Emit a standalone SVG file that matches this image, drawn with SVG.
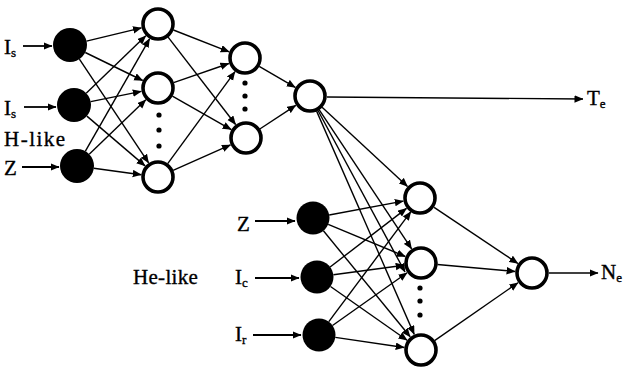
<svg xmlns="http://www.w3.org/2000/svg" width="629" height="367" viewBox="0 0 629 367">
<style>
.c line{stroke:#000;stroke-width:1.4;fill:none;marker-end:url(#ah)}
.c line.ia{stroke-width:1.8}
.in{fill:#000}
.hid{fill:#fff;stroke:#000;stroke-width:3.6}
.dot{fill:#000}
text{font-family:"Liberation Serif","Times New Roman",serif;font-size:21px;fill:#000;stroke:#000;stroke-width:0.35}
.sub{font-size:13px}
</style>
<defs>
<marker id="ah" markerWidth="9" markerHeight="8" refX="8.5" refY="3.75" orient="auto" markerUnits="userSpaceOnUse">
<path d="M0,0 L9,3.75 L0,7.5 z" fill="#000"/>
</marker>
</defs>
<rect width="629" height="367" fill="#fff"/>
<g id="connectors" class="c">
<line class="ia" x1="23" y1="46" x2="52" y2="46"/>
<line class="ia" x1="24" y1="107" x2="56" y2="107"/>
<line class="ia" x1="22" y1="167" x2="59" y2="167"/>
<line class="ia" x1="255" y1="221" x2="295" y2="221"/>
<line class="ia" x1="255" y1="278" x2="299" y2="278"/>
<line class="ia" x1="253" y1="335" x2="301" y2="335"/>
<line x1="86.5" y1="41.1" x2="141.5" y2="27.9"/>
<line x1="85.3" y1="52.5" x2="142.7" y2="80.5"/>
<line x1="79.4" y1="59.1" x2="148.6" y2="162.9"/>
<line x1="86.2" y1="93.2" x2="145.8" y2="35.8"/>
<line x1="90.7" y1="101.6" x2="141.3" y2="91.4"/>
<line x1="86.9" y1="116.1" x2="145.1" y2="165.9"/>
<line x1="85.4" y1="151.2" x2="149.6" y2="38.8"/>
<line x1="89.2" y1="154.2" x2="145.8" y2="99.8"/>
<line x1="93.8" y1="168.3" x2="141.2" y2="174.7"/>
<line x1="173.4" y1="30" x2="229.2" y2="51.8"/>
<line x1="168.1" y1="37.1" x2="235.6" y2="124.5"/>
<line x1="173.6" y1="82.6" x2="228.9" y2="63.5"/>
<line x1="172.4" y1="96.2" x2="231.2" y2="129.6"/>
<line x1="167.7" y1="163.7" x2="235" y2="71.7"/>
<line x1="173.1" y1="170.3" x2="230.5" y2="144.9"/>
<line x1="259.2" y1="66.3" x2="295.3" y2="87.4"/>
<line x1="259.8" y1="129" x2="295.8" y2="105.3"/>
<line x1="327" y1="97" x2="583" y2="99"/>
<line x1="322.1" y1="107.2" x2="407.5" y2="186.4"/>
<line x1="319.1" y1="109.7" x2="411.6" y2="248.8"/>
<line x1="318" y1="110.5" x2="405" y2="272"/>
<line x1="316.6" y1="111.1" x2="414.2" y2="334.4"/>
<line x1="329.2" y1="215" x2="403.3" y2="201.1"/>
<line x1="328.2" y1="224.3" x2="405.3" y2="256.5"/>
<line x1="323.4" y1="230.8" x2="410.2" y2="336.8"/>
<line x1="330.1" y1="267" x2="406.5" y2="208.4"/>
<line x1="333.4" y1="274.8" x2="404.2" y2="265.3"/>
<line x1="330.5" y1="286.5" x2="407.1" y2="340.2"/>
<line x1="328.8" y1="321.7" x2="410.9" y2="211.7"/>
<line x1="332.5" y1="325.5" x2="407.1" y2="272.8"/>
<line x1="335.3" y1="337.4" x2="404.2" y2="347.5"/>
<line x1="434.1" y1="207.4" x2="517.9" y2="263.5"/>
<line x1="437.4" y1="264.5" x2="515.1" y2="271.5"/>
<line x1="434.6" y1="340.6" x2="518" y2="282.7"/>
<line x1="549" y1="273" x2="598" y2="273"/>
</g>
<g id="in1"><circle class="in" cx="70" cy="45" r="17"/></g>
<g id="in2"><circle class="in" cx="74" cy="105" r="17"/></g>
<g id="in3"><circle class="in" cx="77" cy="166" r="17"/></g>
<g id="h1a"><circle class="hid" cx="158" cy="24" r="15"/></g>
<g id="h1b"><circle class="hid" cx="158" cy="88" r="15"/></g>
<g id="h1dots"><circle class="dot" cx="159" cy="115" r="2.6"/><circle class="dot" cx="159" cy="130" r="2.6"/><circle class="dot" cx="159" cy="146" r="2.6"/></g>
<g id="h1c"><circle class="hid" cx="158" cy="177" r="15"/></g>
<g id="h2a"><circle class="hid" cx="245" cy="58" r="15"/></g>
<g id="h2dots"><circle class="dot" cx="245" cy="83" r="2.6"/><circle class="dot" cx="245" cy="96" r="2.6"/><circle class="dot" cx="245" cy="109" r="2.6"/></g>
<g id="h2b"><circle class="hid" cx="246" cy="138" r="15"/></g>
<g id="n3"><circle class="hid" cx="310" cy="96" r="15"/></g>
<g id="b1"><circle class="in" cx="313" cy="218" r="16.5"/></g>
<g id="b2"><circle class="in" cx="317" cy="277" r="16.5"/></g>
<g id="b3"><circle class="in" cx="319" cy="335" r="16.5"/></g>
<g id="l1"><circle class="hid" cx="420" cy="198" r="15"/></g>
<g id="l2"><circle class="hid" cx="421" cy="263" r="15"/></g>
<g id="ldots"><circle class="dot" cx="420" cy="288" r="2.6"/><circle class="dot" cx="420" cy="301" r="2.6"/><circle class="dot" cx="420" cy="315" r="2.6"/></g>
<g id="l3"><circle class="hid" cx="421" cy="350" r="15"/></g>
<g id="out"><circle class="hid" cx="532" cy="273" r="15"/></g>
<g id="labels">
<text x="4" y="54">I<tspan class="sub" dy="3">s</tspan></text>
<text x="4" y="115">I<tspan class="sub" dy="3">s</tspan></text>
<text x="4" y="146" letter-spacing="1.5">H-like</text>
<text x="4" y="175">Z</text>
<text x="237" y="231">Z</text>
<text x="133" y="284" letter-spacing="0.3">He-like</text>
<text x="235" y="284">I<tspan class="sub" dy="3">c</tspan></text>
<text x="235" y="341">I<tspan class="sub" dy="3">r</tspan></text>
<text x="587" y="105">T<tspan class="sub" dy="3">e</tspan></text>
<text x="601" y="279">N<tspan class="sub" dy="3">e</tspan></text>
</g>
</svg>
